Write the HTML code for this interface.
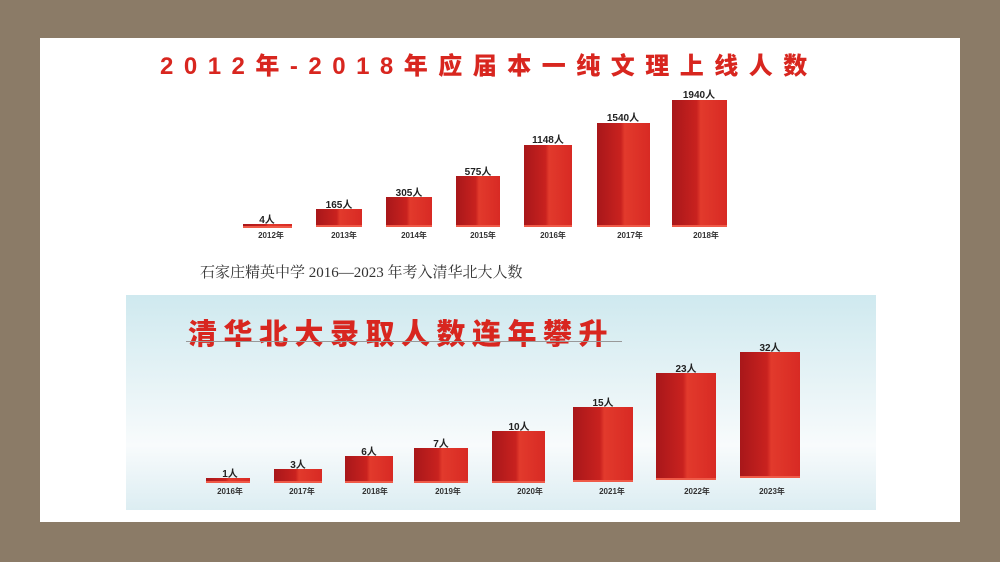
<!DOCTYPE html>
<html><head><meta charset="utf-8"><style>
body{margin:0;width:1000px;height:562px;background:#8b7b67;position:relative;overflow:hidden;font-family:"Liberation Sans","Noto Sans CJK SC",sans-serif}
.panel{position:absolute;left:40px;top:38px;width:920px;height:484px;background:#fff}
.b{position:absolute;background:linear-gradient(90deg,#a8171a 0%,#c9221f 45%,#e23a2c 52%,#d82a24 100%);box-shadow:0 -2px 0 #ef5a48 inset}
.l{position:absolute;font-size:10px;font-weight:bold;color:#222;text-align:center;width:80px;margin-left:-40px}
.y{position:absolute;font-size:8px;font-weight:bold;color:#333;text-align:center;width:60px;margin-left:-30px}
.t1{position:absolute;left:160px;top:46px;font-size:24px;font-weight:900;color:#d8261f;letter-spacing:10.5px;white-space:nowrap}
.cap{position:absolute;left:200px;top:261px;font-family:"Liberation Serif","Noto Serif CJK SC",serif;font-size:15px;color:#333;white-space:nowrap}
.blue{position:absolute;left:126px;top:295px;width:750px;height:215px;background:linear-gradient(180deg,#cfe9ef 0%,#e6f3f6 40%,#f8fbfc 70%,#dcedf2 100%)}
.t2{position:absolute;left:188px;top:311px;font-size:29px;font-weight:900;color:#d8261f;letter-spacing:6.5px;white-space:nowrap}
.ul{position:absolute;left:186px;top:341px;width:436px;height:1px;background:#999}
</style></head><body>
<div class="panel"></div>
<div class="t1">2012年-2018年应届本一纯文理上线人数</div>
<div class="b" style="left:243px;top:224px;width:49px;height:4px"></div>
<div class="b" style="left:316px;top:209px;width:46px;height:18px"></div>
<div class="b" style="left:386px;top:197px;width:46px;height:30px"></div>
<div class="b" style="left:456px;top:176px;width:44px;height:51px"></div>
<div class="b" style="left:524px;top:145px;width:48px;height:82px"></div>
<div class="b" style="left:597px;top:123px;width:53px;height:104px"></div>
<div class="b" style="left:672px;top:100px;width:55px;height:127px"></div>
<div class="l" style="left:267px;top:211px">4人</div>
<div class="l" style="left:339px;top:196px">165人</div>
<div class="l" style="left:409px;top:184px">305人</div>
<div class="l" style="left:478px;top:163px">575人</div>
<div class="l" style="left:548px;top:131px">1148人</div>
<div class="l" style="left:623px;top:109px">1540人</div>
<div class="l" style="left:699px;top:86px">1940人</div>
<div class="y" style="left:271px;top:230px">2012年</div>
<div class="y" style="left:344px;top:230px">2013年</div>
<div class="y" style="left:414px;top:230px">2014年</div>
<div class="y" style="left:483px;top:230px">2015年</div>
<div class="y" style="left:553px;top:230px">2016年</div>
<div class="y" style="left:630px;top:230px">2017年</div>
<div class="y" style="left:706px;top:230px">2018年</div>
<div class="cap">石家庄精英中学 2016—2023 年考入清华北大人数</div>
<div class="blue"></div>
<div class="t2">清华北大录取人数连年攀升</div>
<div class="ul"></div>
<div class="b" style="left:206px;top:478px;width:44px;height:5px"></div>
<div class="b" style="left:274px;top:469px;width:48px;height:14px"></div>
<div class="b" style="left:345px;top:456px;width:48px;height:27px"></div>
<div class="b" style="left:414px;top:448px;width:54px;height:35px"></div>
<div class="b" style="left:492px;top:431px;width:53px;height:52px"></div>
<div class="b" style="left:573px;top:407px;width:60px;height:75px"></div>
<div class="b" style="left:656px;top:373px;width:60px;height:107px"></div>
<div class="b" style="left:740px;top:352px;width:60px;height:126px"></div>
<div class="l" style="left:230px;top:465px">1人</div>
<div class="l" style="left:298px;top:456px">3人</div>
<div class="l" style="left:369px;top:443px">6人</div>
<div class="l" style="left:441px;top:435px">7人</div>
<div class="l" style="left:519px;top:418px">10人</div>
<div class="l" style="left:603px;top:394px">15人</div>
<div class="l" style="left:686px;top:360px">23人</div>
<div class="l" style="left:770px;top:339px">32人</div>
<div class="y" style="left:230px;top:486px">2016年</div>
<div class="y" style="left:302px;top:486px">2017年</div>
<div class="y" style="left:375px;top:486px">2018年</div>
<div class="y" style="left:448px;top:486px">2019年</div>
<div class="y" style="left:530px;top:486px">2020年</div>
<div class="y" style="left:612px;top:486px">2021年</div>
<div class="y" style="left:697px;top:486px">2022年</div>
<div class="y" style="left:772px;top:486px">2023年</div>
</body></html>
